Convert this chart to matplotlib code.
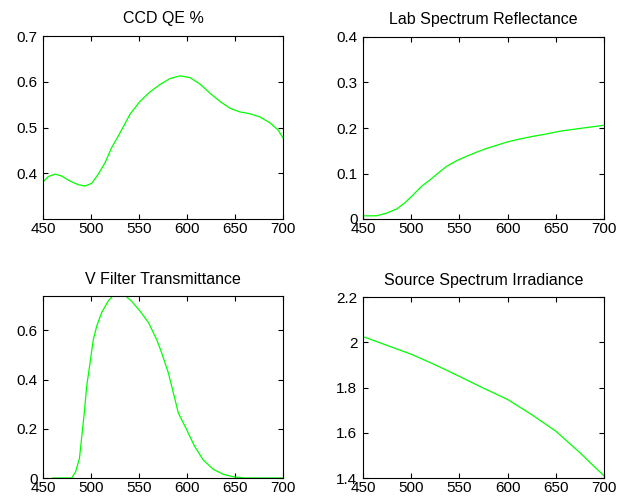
import matplotlib
matplotlib.use("Agg")
import matplotlib.pyplot as plt

plt.rcParams['font.family'] = ['Liberation Sans', 'DejaVu Sans']

# CCD quantum efficiency
ccd_nm = [450, 455.6, 462.5, 469.4, 478, 486.8, 493.7, 500.7, 507.6, 514.6,
          521.5, 530.2, 540.6, 551, 561.5, 571.9, 582.3, 592.7, 603.1, 613.5,
          623.9, 634.4, 644.8, 655.2, 665.6, 676, 686.5, 695.1, 700]
ccd_qe = [0.381, 0.393, 0.398, 0.394, 0.383, 0.375, 0.372, 0.378, 0.398,
          0.423, 0.456, 0.488, 0.529, 0.557, 0.578, 0.594, 0.607, 0.613,
          0.609, 0.595, 0.575, 0.557, 0.542, 0.534, 0.530, 0.523, 0.510,
          0.494, 0.477]

# lab spectrum reflectance
lab_nm = [450, 464, 474.5, 485, 493.6, 502, 510.8, 519.5, 528, 536.8, 547,
          557.5, 568, 578, 588.7, 599, 613, 627, 640.5, 654.4, 668, 682, 700]
lab_refl = [0.007, 0.007, 0.013, 0.022, 0.036, 0.053, 0.072, 0.086, 0.101,
            0.116, 0.128, 0.138, 0.147, 0.155, 0.162, 0.169, 0.176, 0.182,
            0.187, 0.193, 0.197, 0.201, 0.206]

# V filter transmittance
vf_nm = [460, 470, 480, 484, 488, 490, 493, 495.5, 499, 502.4, 506, 511,
         518, 523, 529, 535.4, 542, 551, 560, 568.4, 573.6, 580.6, 585.8,
         591, 599.7, 608, 617, 627.4, 637.8, 648, 660, 680, 700]
vf_trans = [0.0, 0.0, 0.0, 0.026, 0.080, 0.155, 0.264, 0.373, 0.468, 0.563,
            0.618, 0.672, 0.720, 0.742, 0.750, 0.742, 0.720, 0.679, 0.631,
            0.563, 0.509, 0.427, 0.346, 0.264, 0.196, 0.128, 0.073, 0.035,
            0.015, 0.005, 0.0, 0.0, 0.0]

# source spectrum irradiance
src_nm = [450, 500, 525, 550, 575, 600, 625, 650, 675, 690, 700]
src_irr = [2.025, 1.947, 1.900, 1.849, 1.797, 1.747, 1.680, 1.607, 1.512,
           1.450, 1.410]

xticks = [450, 500, 550, 600, 650, 700]

fig = plt.figure(figsize=(6.17, 5.03), dpi=100)
W, H = 617, 503


def make_axes(x0, y0, x1, y1):
    return fig.add_axes([x0 / W, 1 - y1 / H, (x1 - x0) / W, (y1 - y0) / H])


panels = [
    (make_axes(43, 36, 283, 219), ccd_nm, ccd_qe, 'CCD QE %',
     (0.3, 0.7), [0.4, 0.5, 0.6, 0.7], ['0.4', '0.5', '0.6', '0.7']),
    (make_axes(363, 37, 604, 219), lab_nm, lab_refl, 'Lab Spectrum Reflectance',
     (0, 0.4), [0, 0.1, 0.2, 0.3, 0.4], ['0', '0.1', '0.2', '0.3', '0.4']),
    (make_axes(43, 296, 283, 478), vf_nm, vf_trans, 'V Filter Transmittance',
     (0, 0.74), [0, 0.2, 0.4, 0.6], ['0', '0.2', '0.4', '0.6']),
    (make_axes(363, 297, 604, 478), src_nm, src_irr, 'Source Spectrum Irradiance',
     (1.4, 2.2), [1.4, 1.6, 1.8, 2.0, 2.2], ['1.4', '1.6', '1.8', '2', '2.2']),
]

for ax, x, y, title, ylim, yt, ytl in panels:
    ax.plot(x, y, color=(0, 1, 0), lw=0.9)
    ax.set_xlim(450, 700)
    ax.set_ylim(*ylim)
    ax.set_xticks(xticks)
    ax.set_xticklabels([str(t) for t in xticks])
    ax.set_yticks(yt)
    ax.set_yticklabels(ytl)
    ax.tick_params(direction='in', length=3.5, width=0.8, labelsize=11,
                   top=True, right=True, pad=2)
    ax.tick_params(axis='y', pad=4)
    for s in ax.spines.values():
        s.set_linewidth(0.8)
    ax.set_title(title, fontsize=11.5, pad=9)

fig.savefig('out.png', dpi=100)
